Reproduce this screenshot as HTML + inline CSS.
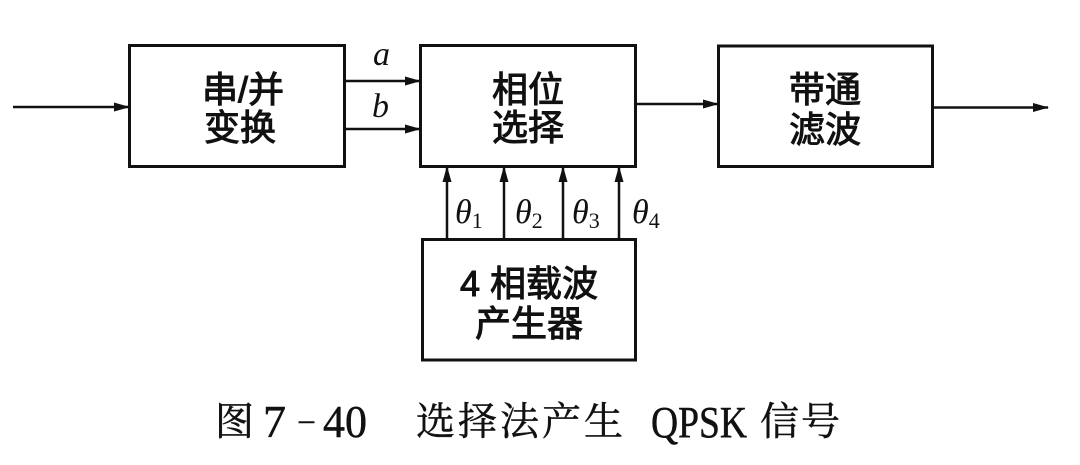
<!DOCTYPE html>
<html>
<head>
<meta charset="utf-8">
<style>
  html, body { margin: 0; padding: 0; background: #fff; }
  body { width: 1080px; height: 465px; overflow: hidden; }
  svg { display: block; }
  .bx { font-family: "Liberation Sans", "Noto Sans CJK SC", sans-serif; font-size: 36px; font-weight: normal; fill: #111; stroke: #111; stroke-width: 1px; }
  .it { font-family: "Liberation Serif", serif; font-style: italic; fill: #111; }
  .cap { font-family: "Liberation Serif", "Noto Serif CJK SC", serif; fill: #111; stroke: #111; stroke-width: 0.5px; }
</style>
</head>
<body>
<svg width="1080" height="465" viewBox="0 0 1080 465" xmlns="http://www.w3.org/2000/svg">
  <defs>
    <marker id="ah" markerWidth="16" markerHeight="10" refX="15" refY="5" orient="auto" markerUnits="userSpaceOnUse">
      <path d="M0,0.5 L16,5 L0,9.5 Z" fill="#111"/>
    </marker>
  </defs>

  <!-- boxes -->
  <g fill="none" stroke="#111" stroke-width="3">
    <rect x="129.5" y="45.5" width="215" height="121"/>
    <rect x="420.5" y="45.5" width="215" height="121"/>
    <rect x="718.5" y="46" width="214" height="120.5"/>
    <rect x="422.5" y="239.5" width="213" height="120.5"/>
  </g>

  <!-- connectors -->
  <g stroke="#111" stroke-width="2.5" fill="none" marker-end="url(#ah)">
    <line x1="13" y1="107" x2="129" y2="107"/>
    <line x1="344" y1="81" x2="420" y2="81"/>
    <line x1="344" y1="129" x2="420" y2="129"/>
    <line x1="636" y1="104" x2="718" y2="104"/>
    <line x1="932" y1="107.5" x2="1048" y2="107.5"/>
    <line x1="447" y1="239" x2="447" y2="167"/>
    <line x1="504" y1="239" x2="504" y2="167"/>
    <line x1="563" y1="239" x2="563" y2="167"/>
    <line x1="619" y1="239" x2="619" y2="167"/>
  </g>

  <!-- a / b labels -->
  <text class="it" x="373" y="65" font-size="34">a</text>
  <text class="it" x="372" y="117" font-size="34">b</text>

  <!-- theta labels -->
  <text class="it" x="455" y="223" font-size="34">θ<tspan font-style="normal" font-size="22" dy="5">1</tspan></text>
  <text class="it" x="515" y="223" font-size="34">θ<tspan font-style="normal" font-size="22" dy="5">2</tspan></text>
  <text class="it" x="572" y="223" font-size="34">θ<tspan font-style="normal" font-size="22" dy="5">3</tspan></text>
  <text class="it" x="632" y="223" font-size="34">θ<tspan font-style="normal" font-size="22" dy="5">4</tspan></text>

  <!-- box text -->
  <text class="bx" x="243" y="102" text-anchor="middle">串/并</text>
  <text class="bx" x="240" y="140" text-anchor="middle">变换</text>

  <text class="bx" x="528" y="102" text-anchor="middle">相位</text>
  <text class="bx" x="528" y="140" text-anchor="middle">选择</text>

  <text class="bx" x="825" y="102" text-anchor="middle">带通</text>
  <text class="bx" x="825" y="142" text-anchor="middle">滤波</text>

  <text class="bx" x="529" y="296" text-anchor="middle">4 相载波</text>
  <text class="bx" x="529" y="336" text-anchor="middle">产生器</text>

  <!-- caption -->
  <text class="cap" x="215" y="435" font-size="39">图</text>
  <text class="cap" x="263" y="437" font-size="46">7</text>
  <text class="cap" x="299" y="429" font-size="30" stroke-width="1.2">–</text>
  <text class="cap" x="323" y="437" font-size="46" textLength="44" lengthAdjust="spacingAndGlyphs">40</text>
  <text class="cap" x="416" y="435" font-size="39" letter-spacing="3">选择法产生</text>
  <text class="cap" x="651" y="437" font-size="44" textLength="96" lengthAdjust="spacingAndGlyphs">QPSK</text>
  <text class="cap" x="760" y="435" font-size="39" letter-spacing="2">信号</text>
</svg>
</body>
</html>
